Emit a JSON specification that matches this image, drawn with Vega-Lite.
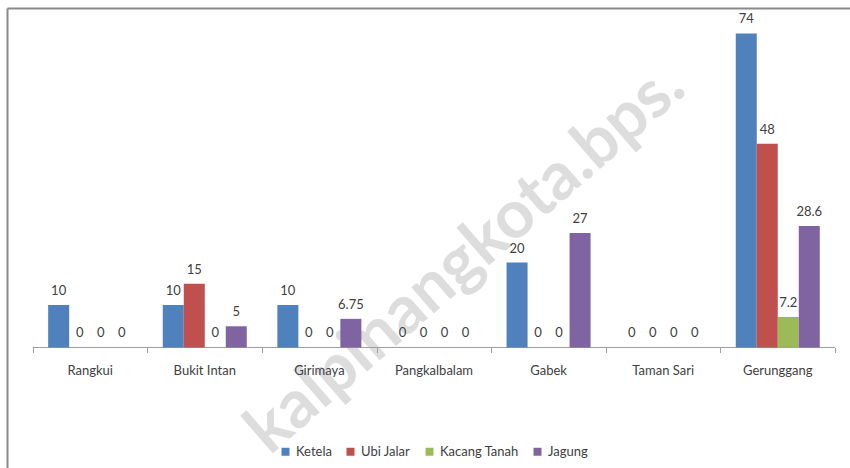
{
  "$schema": "https://vega.github.io/schema/vega-lite/v6.json",
  "width": 843,
  "height": 460,
  "autosize": "none",
  "padding": {"left": 7, "top": 8, "right": 0, "bottom": 0},
  "background": "white",
  "config": {"view": {"stroke": null}, "font": "Lato"},
  "data": {
    "values": [
      {"cat": "Rangkui", "series": "Ketela", "value": 10},
      {"cat": "Rangkui", "series": "Ubi Jalar", "value": 0},
      {"cat": "Rangkui", "series": "Kacang Tanah", "value": 0},
      {"cat": "Rangkui", "series": "Jagung", "value": 0},
      {"cat": "Bukit Intan", "series": "Ketela", "value": 10},
      {"cat": "Bukit Intan", "series": "Ubi Jalar", "value": 15},
      {"cat": "Bukit Intan", "series": "Kacang Tanah", "value": 0},
      {"cat": "Bukit Intan", "series": "Jagung", "value": 5},
      {"cat": "Girimaya", "series": "Ketela", "value": 10},
      {"cat": "Girimaya", "series": "Ubi Jalar", "value": 0},
      {"cat": "Girimaya", "series": "Kacang Tanah", "value": 0},
      {"cat": "Girimaya", "series": "Jagung", "value": 6.75},
      {"cat": "Pangkalbalam", "series": "Ketela", "value": 0},
      {"cat": "Pangkalbalam", "series": "Ubi Jalar", "value": 0},
      {"cat": "Pangkalbalam", "series": "Kacang Tanah", "value": 0},
      {"cat": "Pangkalbalam", "series": "Jagung", "value": 0},
      {"cat": "Gabek", "series": "Ketela", "value": 20},
      {"cat": "Gabek", "series": "Ubi Jalar", "value": 0},
      {"cat": "Gabek", "series": "Kacang Tanah", "value": 0},
      {"cat": "Gabek", "series": "Jagung", "value": 27},
      {"cat": "Taman Sari", "series": "Ketela", "value": 0},
      {"cat": "Taman Sari", "series": "Ubi Jalar", "value": 0},
      {"cat": "Taman Sari", "series": "Kacang Tanah", "value": 0},
      {"cat": "Taman Sari", "series": "Jagung", "value": 0},
      {"cat": "Gerunggang", "series": "Ketela", "value": 74},
      {"cat": "Gerunggang", "series": "Ubi Jalar", "value": 48},
      {"cat": "Gerunggang", "series": "Kacang Tanah", "value": 7.2},
      {"cat": "Gerunggang", "series": "Jagung", "value": 28.6}
    ]
  },
  "resolve": {"axis": {"x": "independent"}},
  "layer": [
    {
      "data": {"values": [{"wm": "kalpinangkota.bps."}]},
      "mark": {"type": "text", "angle": 319, "align": "right", "baseline": "alphabetic", "font": "Lato", "fontWeight": "bold", "fontSize": 67, "color": "#dddddd"},
      "encoding": {
        "x": {"datum": "Taman Sari", "type": "nominal", "bandPosition": 0.72, "axis": null},
        "y": {"datum": 60.2, "type": "quantitative"},
        "text": {"field": "wm", "type": "nominal"}
      }
    },
    {
      "transform": [{"filter": "datum.series === 'Ketela'"}],
      "mark": {"type": "rect", "filled": false, "color": "#a0a0a0", "strokeWidth": 1},
      "encoding": {
        "x": {
          "field": "cat", "type": "nominal",
          "axis": {"orient": "bottom", "offset": -120.5, "domain": false, "ticks": true, "tickBand": "extent", "tickSize": 5, "tickColor": "#a0a0a0", "tickWidth": 1, "labels": false, "title": null, "grid": false}
        },
        "y": {"datum": 0, "type": "quantitative"},
        "y2": {"datum": 0}
      }
    },
    {
      "mark": {"type": "bar"},
      "encoding": {
        "x": {
          "field": "cat", "type": "nominal",
          "scale": {"domain": ["Rangkui", "Bukit Intan", "Girimaya", "Pangkalbalam", "Gabek", "Taman Sari", "Gerunggang"], "paddingInner": 0, "paddingOuter": 0.178, "align": 0.634},
          "axis": {"orient": "bottom", "offset": -120.5, "zindex": 1, "domain": false, "ticks": true, "tickOpacity": 0, "tickSize": 5, "labelFont": "Lato", "labelFontSize": 13, "labelColor": "#404040", "labelPadding": 12, "labelAngle": 0, "labelAlign": "center", "title": null, "grid": false}
        },
        "xOffset": {
          "field": "series", "type": "nominal",
          "scale": {"domain": ["Ketela", "Ubi Jalar", "Kacang Tanah", "Jagung"], "paddingInner": 0, "paddingOuter": 0.728}
        },
        "y": {
          "field": "value", "type": "quantitative",
          "scale": {"domain": [-28.4, 80], "nice": false, "zero": false},
          "axis": {"orient": "left", "domain": true, "domainColor": "#8a8a8a", "domainWidth": 2, "ticks": false, "labels": false, "grid": true, "values": [80], "gridColor": "#8a8a8a", "gridWidth": 2, "title": null}
        },
        "y2": {"datum": 0},
        "color": {
          "field": "series", "type": "nominal",
          "scale": {"domain": ["Ketela", "Ubi Jalar", "Kacang Tanah", "Jagung"], "range": ["#4F81BD", "#C0504D", "#9BBB59", "#8064A2"]},
          "legend": {"orient": "none", "legendX": 272, "legendY": 437, "zindex": 1, "direction": "horizontal", "title": null, "symbolType": "square", "symbolSize": 64, "symbolStrokeWidth": 0, "labelFont": "Lato", "labelFontSize": 13, "labelColor": "#404040", "labelOffset": 4, "columnPadding": 12}
        }
      }
    },
    {
      "mark": {"type": "text", "baseline": "alphabetic", "dy": -10, "fontSize": 13, "font": "Lato", "color": "#404040"},
      "encoding": {
        "x": {"field": "cat", "type": "nominal", "axis": null},
        "xOffset": {"field": "series", "type": "nominal"},
        "y": {"field": "value", "type": "quantitative"},
        "text": {"field": "value", "type": "quantitative", "format": "~g"}
      }
    }
  ]
}
